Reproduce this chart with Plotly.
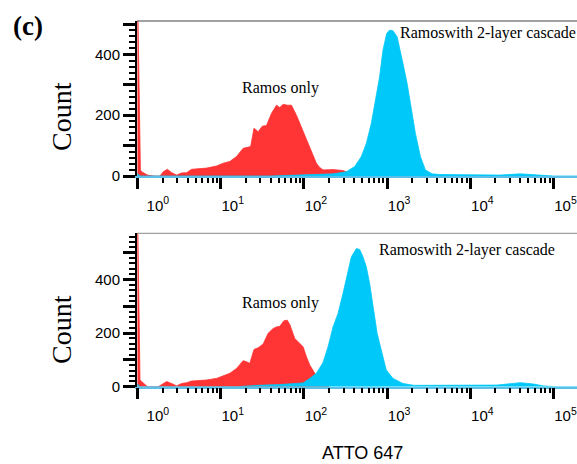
import numpy as np
import plotly.graph_objects as go

# ---------------- data (x given as log10 of ATTO 647 intensity) ----------------
RED_TOP_LOGX = [0.0, 0.035, 0.05, 0.08, 0.12, 0.2, 0.27, 0.31, 0.36, 0.41, 0.47, 0.53, 0.59,
                0.65, 0.75, 0.83, 0.95, 1.03, 1.11, 1.19, 1.27, 1.33, 1.36, 1.40, 1.45, 1.50,
                1.55, 1.61, 1.67, 1.71, 1.75, 1.80, 1.85, 1.91, 1.99, 2.03, 2.07, 2.11, 2.15,
                2.19, 2.23, 2.35, 2.47, 2.55, 2.62, 2.70]
RED_TOP_COUNT = [620, 20, 14, 10, 3, 0, 0, 14, 22, 11, 3, 10, 11,
                 22, 24, 26, 33, 42, 48, 64, 91, 95, 97, 157, 146, 164,
                 166, 206, 233, 225, 236, 233, 233, 200, 146, 118, 91, 64, 42,
                 28, 20, 21, 18, 9, 3, 0]

BLUE_TOP_LOGX = [0.0, 0.03, 1.6, 1.9, 2.2, 2.35, 2.51, 2.61, 2.69, 2.75, 2.81, 2.87, 2.91,
                 2.95, 2.995, 3.03, 3.07, 3.12, 3.16, 3.19, 3.24, 3.28, 3.34, 3.40, 3.46,
                 3.54, 3.63, 3.96, 4.36, 4.60, 4.75, 5.0, 5.3]
BLUE_TOP_COUNT = [8, 0, 0, 2, 4, 7, 14, 31, 64, 107, 173, 261, 327,
                  414, 469, 480, 478, 458, 414, 371, 305, 239, 140, 64, 20,
                  7, 5, 4, 3, 7, 4, 0, 0]

RED_BOT_LOGX = [0.0, 0.03, 0.05, 0.09, 0.12, 0.25, 0.31, 0.35, 0.41, 0.47, 0.53, 0.59, 0.65,
                0.75, 0.83, 0.95, 1.03, 1.11, 1.19, 1.27, 1.31, 1.35, 1.40, 1.45, 1.51, 1.57,
                1.63, 1.67, 1.71, 1.76, 1.80, 1.83, 1.89, 1.95, 1.99, 2.03, 2.07, 2.13, 2.20,
                2.30]
RED_BOT_COUNT = [680, 25, 19, 6, 0, 0, 12, 19, 12, 3, 12, 15, 21,
                 22, 25, 31, 40, 50, 68, 97, 93, 87, 139, 145, 159, 199,
                 217, 223, 225, 246, 248, 232, 180, 162, 149, 112, 81, 50, 20,
                 0]

BLUE_BOT_LOGX = [0.0, 0.03, 1.2, 1.43, 1.71, 1.99, 2.07, 2.15, 2.23, 2.29, 2.35, 2.41, 2.47,
                 2.53, 2.57, 2.63, 2.67, 2.71, 2.75, 2.79, 2.83, 2.88, 2.94, 2.99, 3.07,
                 3.19, 3.32, 3.64, 3.84, 4.08, 4.32, 4.60, 4.76, 4.88, 5.0, 5.3]
BLUE_BOT_COUNT = [10, 0, 0, 5, 8, 14, 31, 50, 90, 149, 223, 273, 348,
                  435, 484, 515, 512, 484, 447, 385, 298, 199, 124, 62, 31,
                  12, 5, 5, 7, 5, 6, 15, 10, 3, 0, 0]

NB = "\u00a0"
X_TICK_VALS = [1, 10, 100, 1000, 10000, 100000]
X_TICK_TEXT = [NB * 4 + "10<sup>0</sup>", "10<sup>1</sup>", "10<sup>2</sup>",
               "10<sup>3</sup>", "10<sup>4</sup>", "10<sup>5</sup>"]
X_MINOR_VALS = [m * 10 ** d for d in range(0, 5) for m in range(2, 10)]
Y_TICK_VALS = [0, 100, 200, 300, 400, 500]
Y_TICK_TEXT = ["0", "", "200", "", "400", ""]

RED = "#ff3434"
CYAN = "#00c8f8"

fig = go.Figure()


def add_hist(logx, counts, color, xa, ya):
    fig.add_trace(go.Scatter(
        x=10 ** np.array(logx), y=counts, mode="lines", fill="tozeroy",
        fillcolor=color, line=dict(color=color, width=0.8),
        xaxis=xa, yaxis=ya, showlegend=False, hoverinfo="skip"))


add_hist(RED_TOP_LOGX, RED_TOP_COUNT, RED, "x", "y")
add_hist(BLUE_TOP_LOGX, BLUE_TOP_COUNT, CYAN, "x", "y")
add_hist(RED_BOT_LOGX, RED_BOT_COUNT, RED, "x2", "y2")
add_hist(BLUE_BOT_LOGX, BLUE_BOT_COUNT, CYAN, "x2", "y2")

W, H = 577, 464
XDOM = [137 / W, 1.0]
YDOM_TOP = [1 - 176 / H, 1 - 21 / H]
YDOM_BOT = [1 - 386.7 / H, 1 - 233.3 / H]

TICKFONT = dict(family="Liberation Sans, Arial, sans-serif", size=15, color="black")


def xaxis_cfg(anchor):
    return dict(
        domain=XDOM, anchor=anchor, type="log", range=[-0.006, 5.282],
        automargin=False,
        tickmode="array", tickvals=X_TICK_VALS, ticktext=X_TICK_TEXT,
        ticks="outside", ticklen=11, tickwidth=3, tickcolor="black",
        ticklabelshift=12, ticklabelstandoff=4, tickfont=TICKFONT,
        minor=dict(tickmode="array", tickvals=X_MINOR_VALS, ticks="outside",
                   ticklen=5, tickwidth=1.8, tickcolor="black"),
        showline=True, linecolor="#5bbfe6", linewidth=1.5,
        showgrid=False, zeroline=False)


def yaxis_cfg(anchor, dom, top):
    return dict(
        domain=dom, anchor=anchor, range=[0, top],
        automargin=False,
        tickmode="array", tickvals=Y_TICK_VALS, ticktext=Y_TICK_TEXT,
        ticks="outside", ticklen=12, tickwidth=3, tickcolor="black",
        tickfont=TICKFONT,
        minor=dict(dtick=20, tick0=0, ticks="outside", ticklen=6,
                   tickwidth=1.8, tickcolor="black"),
        showline=True, linecolor="black", linewidth=2,
        showgrid=False, zeroline=False)


SERIF = "Liberation Serif, Times New Roman, serif"


def note(text, px, py, size, family=SERIF, angle=0, xanchor="center"):
    return dict(text=text, x=px / W, y=1 - py / H, xref="paper", yref="paper",
                xanchor=xanchor, yanchor="middle", showarrow=False, textangle=angle,
                font=dict(family=family, size=size, color="black"))


annotations = [
    note("<b>(c)</b>", 28, 26, 27),
    note("Count", 61, 117, 28, angle=-90),
    note("Count", 61, 330, 28, angle=-90),
    note("Ramos only", 280, 88, 16),
    note("Ramoswith 2-layer cascade", 398, 33, 16, xanchor="left"),
    note("Ramos only", 280, 303, 16),
    note("Ramoswith 2-layer cascade", 377, 250, 16, xanchor="left"),
    note("ATTO 647", 362, 453, 18, family="Liberation Sans, Arial, sans-serif"),
]

shapes = [
    dict(type="line", xref="paper", yref="paper", x0=XDOM[0], x1=1,
         y0=YDOM_TOP[1], y1=YDOM_TOP[1], line=dict(color="#444444", width=1)),
    dict(type="line", xref="paper", yref="paper", x0=XDOM[0], x1=1,
         y0=YDOM_BOT[1], y1=YDOM_BOT[1], line=dict(color="#888888", width=1)),
]

fig.update_layout(
    width=W, height=H, margin=dict(l=0, r=0, t=0, b=0, autoexpand=False),
    paper_bgcolor="white", plot_bgcolor="white",
    xaxis=xaxis_cfg("y"), yaxis=yaxis_cfg("x", YDOM_TOP, 510),
    xaxis2=xaxis_cfg("y2"), yaxis2=yaxis_cfg("x2", YDOM_BOT, 572),
    annotations=annotations, shapes=shapes,
)

fig.write_html(
    "out.html",
    config={"responsive": False, "displayModeBar": False},
    post_script="document.body.style.margin='0px';document.body.style.overflow='hidden';",
)
